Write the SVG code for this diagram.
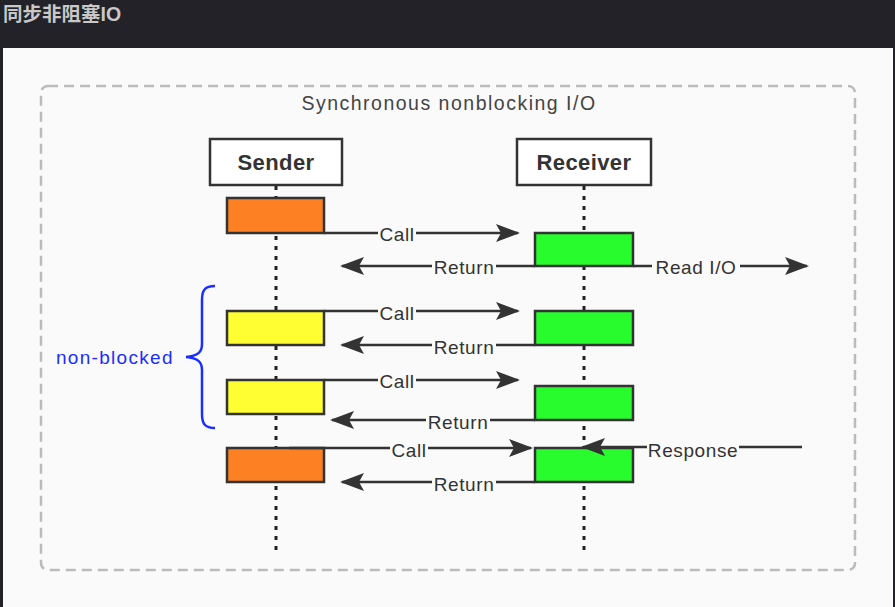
<svg xmlns="http://www.w3.org/2000/svg" width="895" height="607" viewBox="0 0 895 607">
<style>
.lbl{font-family:"Liberation Sans",Arial,sans-serif;font-size:19px;letter-spacing:0.6px;fill:#333;text-anchor:middle}
.hdr{font-family:"Liberation Sans",Arial,sans-serif;font-size:22px;fill:#333;text-anchor:middle;font-weight:bold;letter-spacing:0.4px}
.act{stroke:#333;stroke-width:2.5}
.ln{stroke:#333;stroke-width:2.5;fill:none}
.life{stroke:#222;stroke-width:3;stroke-dasharray:4 6}
.bg{fill:#fafafa}
</style>
<defs>
<marker id="ah" viewBox="0 0 24 18" refX="22" refY="9" markerWidth="24" markerHeight="18" markerUnits="userSpaceOnUse" orient="auto">
<path d="M0,0 L24,9 L0,18 L5,9 Z" fill="#333"/>
</marker>
</defs>
<rect x="0" y="0" width="895" height="607" fill="#232228"/>
<text x="3" y="21" font-family="'Liberation Sans','Noto Sans CJK SC',sans-serif" font-size="19.5" font-weight="bold" fill="#c8c8c8">同步非阻塞IO</text>
<rect x="3" y="48" width="890" height="559" fill="#fafafa"/>
<rect x="41" y="86" width="814" height="484" rx="7" fill="none" stroke="#bbb" stroke-width="2.5" stroke-dasharray="10 6"/>
<text x="449" y="110" font-family="'Liberation Sans',Arial,sans-serif" font-size="19.5" letter-spacing="1.5" fill="#444" text-anchor="middle">Synchronous nonblocking I/O</text>

<g id="lifelines">
<line class="life" x1="276" y1="186" x2="276" y2="556"/>
<line class="life" x1="584" y1="186" x2="584" y2="556"/>
</g>

<g id="sender"><rect x="210" y="139" width="132" height="46" fill="#fff" stroke="#333" stroke-width="2.5"/><text x="276" y="170" class="hdr">Sender</text></g>
<g id="receiver"><rect x="517" y="139" width="134" height="46" fill="#fff" stroke="#333" stroke-width="2.5"/><text x="584" y="170" class="hdr">Receiver</text></g>

<g id="s1"><rect class="act" x="227" y="198" width="97" height="35" fill="#fd8123"/></g>
<g id="s2"><rect class="act" x="227" y="311" width="97" height="34" fill="#fefe33"/></g>
<g id="s3"><rect class="act" x="227" y="380" width="97" height="34" fill="#fefe33"/></g>
<g id="s4"><rect class="act" x="227" y="448" width="97" height="34" fill="#fd8123"/></g>
<g id="r1"><rect class="act" x="535" y="233" width="98" height="33" fill="#28fc2d"/></g>
<g id="r2"><rect class="act" x="535" y="311" width="98" height="34" fill="#28fc2d"/></g>
<g id="r3"><rect class="act" x="535" y="386" width="98" height="34" fill="#28fc2d"/></g>
<g id="r4"><rect class="act" x="535" y="448" width="98" height="34" fill="#28fc2d"/></g>

<g id="connectors">
<line class="ln" x1="324" y1="233" x2="518" y2="233" marker-end="url(#ah)"/>
<line class="ln" x1="535" y1="266" x2="342" y2="266" marker-end="url(#ah)"/>
<line class="ln" x1="633" y1="266" x2="807" y2="266" marker-end="url(#ah)"/>
<line class="ln" x1="324" y1="311" x2="518" y2="311" marker-end="url(#ah)"/>
<line class="ln" x1="535" y1="345" x2="342" y2="345" marker-end="url(#ah)"/>
<line class="ln" x1="324" y1="380" x2="518" y2="380" marker-end="url(#ah)"/>
<line class="ln" x1="535" y1="420" x2="332" y2="420" marker-end="url(#ah)"/>
<line class="ln" x1="289" y1="448" x2="531" y2="448" marker-end="url(#ah)"/>
<line class="ln" x1="802" y1="447" x2="583" y2="447" marker-end="url(#ah)"/>
<line class="ln" x1="535" y1="482" x2="342" y2="482" marker-end="url(#ah)"/>

<rect class="bg" x="378" y="223" width="38" height="22"/><text x="397" y="241" class="lbl">Call</text>
<rect class="bg" x="432" y="256" width="64" height="22"/><text x="464" y="274" class="lbl">Return</text>
<rect class="bg" x="652" y="256" width="88" height="22"/><text x="696" y="274" class="lbl">Read I/O</text>
<rect class="bg" x="378" y="302" width="38" height="22"/><text x="397" y="320" class="lbl">Call</text>
<rect class="bg" x="432" y="336" width="64" height="22"/><text x="464" y="354" class="lbl">Return</text>
<rect class="bg" x="378" y="370" width="38" height="22"/><text x="397" y="388" class="lbl">Call</text>
<rect class="bg" x="426" y="411" width="64" height="22"/><text x="458" y="429" class="lbl">Return</text>
<rect class="bg" x="390" y="439" width="38" height="22"/><text x="409" y="457" class="lbl">Call</text>
<rect class="bg" x="647" y="439" width="92" height="22"/><text x="693" y="457" class="lbl">Response</text>
<rect class="bg" x="432" y="473" width="64" height="22"/><text x="464" y="491" class="lbl">Return</text>
</g>

<g id="brace">
<path d="M215,286 C205,286 202,290 202,300 L202,344 C202,352 198,356 186,357 C198,358 202,362 202,370 L202,414 C202,424 205,428 215,428" fill="none" stroke="#1a2eff" stroke-width="2.5"/>
<text x="56" y="364" font-family="'Liberation Sans',Arial,sans-serif" font-size="19" letter-spacing="1.3" fill="#1a2eff">non-blocked</text>
</g>
</svg>
